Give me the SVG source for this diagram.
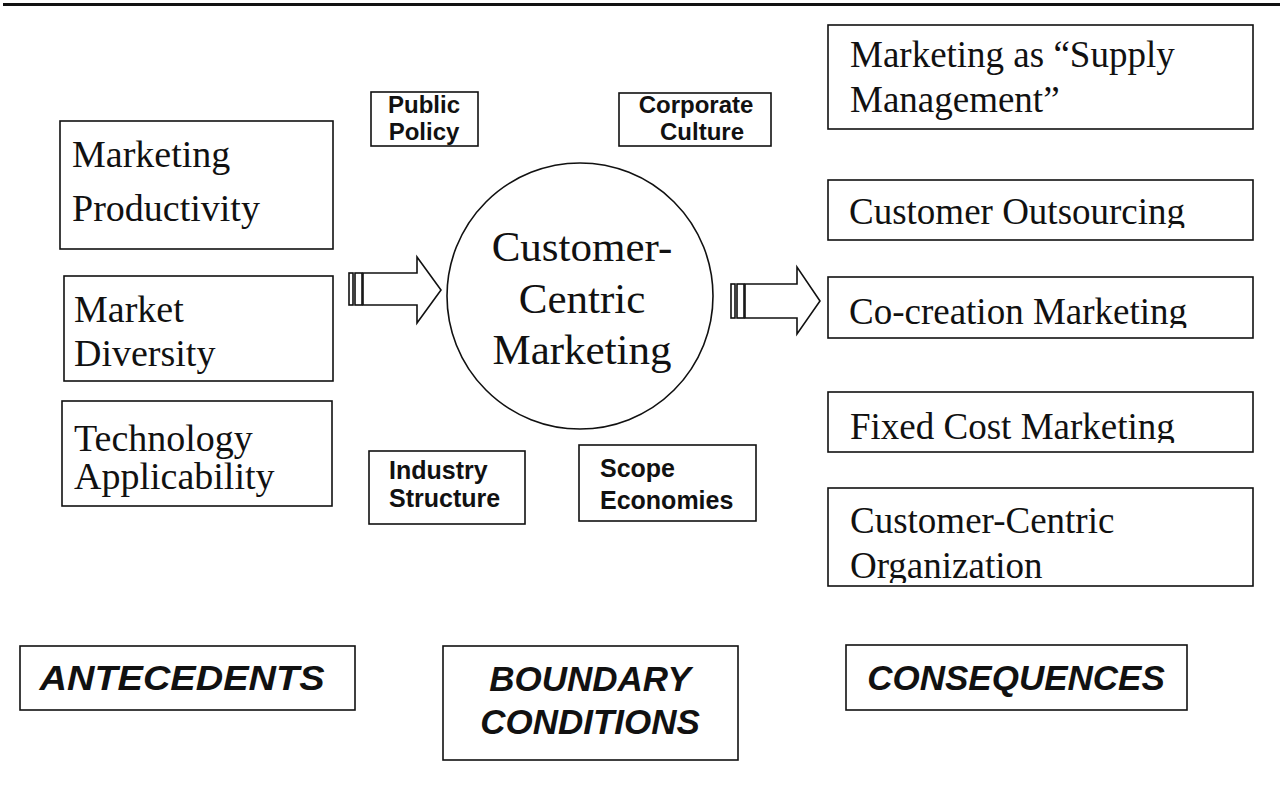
<svg xmlns="http://www.w3.org/2000/svg" width="1283" height="787" viewBox="0 0 1283 787">
<style>
.box{fill:#fff;stroke:#111;stroke-width:1.6}
.ser{font-family:"Liberation Serif","Times New Roman",serif;font-size:37px;fill:#111}
.serl{font-family:"Liberation Serif","Times New Roman",serif;font-size:38px;fill:#111}
.cir{font-family:"Liberation Serif","Times New Roman",serif;font-size:43px;fill:#111;text-anchor:middle}
.sb{font-family:"Liberation Sans",Arial,sans-serif;font-weight:bold;font-size:24px;fill:#111}
.sb2{font-family:"Liberation Sans",Arial,sans-serif;font-weight:bold;font-size:25px;fill:#111}
.lab{font-family:"Liberation Sans",Arial,sans-serif;font-weight:bold;font-style:italic;font-size:35px;fill:#111;text-anchor:middle}
.arr{fill:#fff;stroke:#111;stroke-width:1.6;stroke-linejoin:miter}
.bar{fill:#fff;stroke:#111;stroke-width:1.6}
</style>
<defs>
<clipPath id="c1"><rect x="828" y="180" width="425" height="48"/></clipPath>
<clipPath id="c2"><rect x="828" y="280" width="425" height="48"/></clipPath>
<clipPath id="c3"><rect x="828" y="392" width="425" height="51"/></clipPath>
<clipPath id="c4"><rect x="828" y="488" width="425" height="95"/></clipPath>
</defs>
<line x1="3" y1="4.5" x2="1280" y2="4.5" stroke="#111" stroke-width="3"/>

<g id="marketing-productivity">
<rect class="box" x="60" y="121" width="273" height="128"/>
<text class="serl" x="72" y="167">Marketing</text>
<text class="serl" x="72" y="221">Productivity</text>
</g>
<g id="market-diversity">
<rect class="box" x="64" y="276" width="269" height="105"/>
<text class="serl" x="74" y="322">Market</text>
<text class="serl" x="74" y="366">Diversity</text>
</g>
<g id="technology-applicability">
<rect class="box" x="62" y="401" width="270" height="105"/>
<text class="serl" x="74" y="451">Technology</text>
<text class="serl" x="74" y="489">Applicability</text>
</g>

<g id="customer-centric-marketing">
<circle cx="580" cy="296" r="133" fill="#fff" stroke="#111" stroke-width="1.6"/>
<text class="cir" x="582" y="261">Customer-</text>
<text class="cir" x="582" y="313">Centric</text>
<text class="cir" x="582" y="364">Marketing</text>
</g>

<g id="public-policy">
<rect class="box" x="371" y="92" width="107" height="54"/>
<text class="sb" x="424" y="113" text-anchor="middle">Public</text>
<text class="sb" x="424" y="140" text-anchor="middle">Policy</text>
</g>
<g id="corporate-culture">
<rect class="box" x="619" y="93" width="152" height="53"/>
<text class="sb" x="696" y="113" text-anchor="middle">Corporate</text>
<text class="sb" x="702" y="140" text-anchor="middle">Culture</text>
</g>
<g id="industry-structure">
<rect class="box" x="369" y="451" width="156" height="73"/>
<text class="sb2" x="389" y="479">Industry</text>
<text class="sb2" x="389" y="507">Structure</text>
</g>
<g id="scope-economies">
<rect class="box" x="579" y="445" width="177" height="76"/>
<text class="sb2" x="600" y="477">Scope</text>
<text class="sb2" x="600" y="509">Economies</text>
</g>

<g id="supply-management">
<rect class="box" x="828" y="25" width="425" height="104"/>
<text class="ser" x="850" y="67">Marketing as “Supply</text>
<text class="ser" x="850" y="112">Management”</text>
</g>
<g id="customer-outsourcing">
<rect class="box" x="828" y="180" width="425" height="60"/>
<text class="ser" x="849" y="224" clip-path="url(#c1)">Customer Outsourcing</text>
</g>
<g id="co-creation-marketing">
<rect class="box" x="828" y="277" width="425" height="61"/>
<text class="ser" x="849" y="324" clip-path="url(#c2)">Co-creation Marketing</text>
</g>
<g id="fixed-cost-marketing">
<rect class="box" x="828" y="392" width="425" height="60"/>
<text class="ser" x="850" y="439" clip-path="url(#c3)">Fixed Cost Marketing</text>
</g>
<g id="customer-centric-organization">
<rect class="box" x="828" y="488" width="425" height="98"/>
<text class="ser" x="850" y="533">Customer-Centric</text>
<text class="ser" x="850" y="578" clip-path="url(#c4)">Organization</text>
</g>

<g id="antecedents">
<rect class="box" x="20" y="646" width="335" height="64"/>
<text class="lab" x="182" y="690" textLength="285" lengthAdjust="spacingAndGlyphs">ANTECEDENTS</text>
</g>
<g id="boundary-conditions">
<rect class="box" x="443" y="646" width="295" height="114"/>
<text class="lab" x="590" y="691">BOUNDARY</text>
<text class="lab" x="590" y="734">CONDITIONS</text>
</g>
<g id="consequences">
<rect class="box" x="846" y="645" width="341" height="65"/>
<text class="lab" x="1016" y="690">CONSEQUENCES</text>
</g>

<g id="connectors">
<rect class="bar" x="349" y="273" width="4" height="32"/>
<rect class="bar" x="355" y="273" width="7" height="32"/>
<polygon class="arr" points="363,273 417,273 417,257 441,290 417,323 417,305 363,305"/>
<rect class="bar" x="731" y="284" width="4" height="34"/>
<rect class="bar" x="737" y="284" width="7" height="34"/>
<polygon class="arr" points="745,284 797,284 797,267 820,301 797,334 797,318 745,318"/>
</g>
</svg>
